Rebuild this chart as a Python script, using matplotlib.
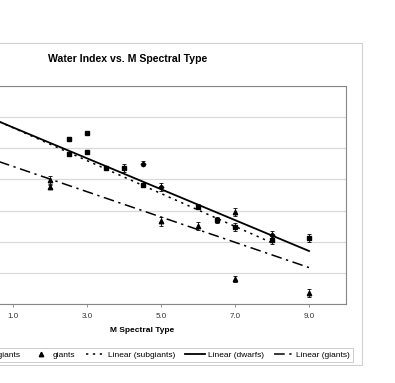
import matplotlib
matplotlib.use('Agg')
import matplotlib.pyplot as plt
from matplotlib.patches import Rectangle
import numpy as np

plt.rcParams['font.family'] = ['Liberation Sans', 'DejaVu Sans']

title = "Water Index vs. M Spectral Type"
x_label = "M Spectral Type"
x_ticks = [1.0, 3.0, 5.0, 7.0, 9.0]
y_ticks = [0.65, 0.70, 0.75, 0.80, 0.85, 0.90, 0.95, 1.00]

dwarf_x = [2.5, 2.5, 3.0, 3.0, 3.5, 4.0, 4.5, 6.0, 6.5, 7.0, 8.0, 9.0]
dwarf_y = [0.915, 0.891, 0.925, 0.894, 0.868, 0.868, 0.841, 0.806, 0.785, 0.774, 0.753, 0.756]
dwarf_err = [0.0, 0.0, 0.0, 0.003, 0.0, 0.006, 0.003, 0.004, 0.005, 0.006, 0.006, 0.007]

sub_x = [4.5, 5.0, 8.0]
sub_y = [0.875, 0.838, 0.761]
sub_err = [0.004, 0.006, 0.007]

giant_x = [2.0, 2.0, 5.0, 6.0, 7.0, 7.0, 9.0]
giant_y = [0.849, 0.838, 0.783, 0.775, 0.798, 0.690, 0.668]
giant_err = [0.006, 0.003, 0.007, 0.006, 0.006, 0.005, 0.006]

# linear trendlines: slope, intercept, x-span
dwarf_fit = (-0.0248, 0.9583, 0.0, 9.0)
sub_fit = (-0.0264, 0.9594, 0.0, 8.0)
giant_fit = (-0.0203, 0.8912, 0.0, 9.0)

W, H = 395, 383
fig = plt.figure(figsize=(W / 100, H / 100), dpi=100)

# outer chart border
fig.patches.append(Rectangle((-106 / W, (H - 365) / H), 468 / W, 322 / H,
                             transform=fig.transFigure, facecolor='none',
                             edgecolor='#d0d0d0', lw=0.8, clip_on=False))

ax = fig.add_axes([-61 / W, (H - 304) / H, 407 / W, 218 / H])
ax.set_xlim(-1, 10)
ax.set_ylim(0.65, 1.00)
ax.set_xticks(x_ticks)
ax.set_xticklabels([f"{t:.1f}" for t in x_ticks])
ax.set_yticks(y_ticks)
ax.set_yticklabels([])
ax.yaxis.grid(True, color='#d9d9d9', lw=0.9)
ax.set_axisbelow(True)
for s in ax.spines.values():
    s.set_color('#868686')
    s.set_linewidth(0.8)
ax.tick_params(axis='x', length=2.5, width=0.6, color='#868686', labelsize=5.8,
               labelcolor='#333333', pad=4)
ax.tick_params(axis='y', length=0)
ax.set_xlabel(x_label, fontsize=6, fontweight='bold', labelpad=5)

ekw = dict(color='black', ecolor='black', elinewidth=0.6, capsize=1.5,
           capthick=0.6, linestyle='none')
d = ax.errorbar(dwarf_x, dwarf_y, yerr=dwarf_err, fmt='s', ms=3.5, **ekw)
s = ax.errorbar(sub_x, sub_y, yerr=sub_err, fmt='D', ms=2.4, **ekw)
g = ax.errorbar(giant_x, giant_y, yerr=giant_err, fmt='^', ms=3.2, **ekw)


def trend(fit):
    m, b, x0, x1 = fit
    xs = np.array([x0, x1])
    return xs, m * xs + b


xs, ys = trend(sub_fit)
l_sub, = ax.plot(xs, ys, color='black', lw=1.1, linestyle=(0, (1.5, 3.0)))
xs, ys = trend(dwarf_fit)
l_dw, = ax.plot(xs, ys, color='black', lw=1.3, linestyle='-')
xs, ys = trend(giant_fit)
l_gi, = ax.plot(xs, ys, color='black', lw=1.1, linestyle=(0, (7, 3, 1.5, 3)))

fig.text(128 / W, 1 - 59 / H, title, ha='center', va='center',
         fontsize=7.6, fontweight='bold')

handles = [d[0], s[0], g[0], l_sub, l_dw, l_gi]
labels = ['dwarfs', 'subgiants', 'giants', 'Linear (subgiants)',
          'Linear (dwarfs)', 'Linear (giants)']
leg = fig.legend(handles, labels, ncol=6, loc='lower right',
                 bbox_to_anchor=(353 / W, (H - 362) / H), fontsize=6,
                 frameon=True, fancybox=False, edgecolor='#bfbfbf',
                 handlelength=2.4, handletextpad=0.3, columnspacing=1.2,
                 borderpad=0.35, borderaxespad=0)
leg.get_frame().set_linewidth(0.7)

fig.savefig('out.png', dpi=100)
